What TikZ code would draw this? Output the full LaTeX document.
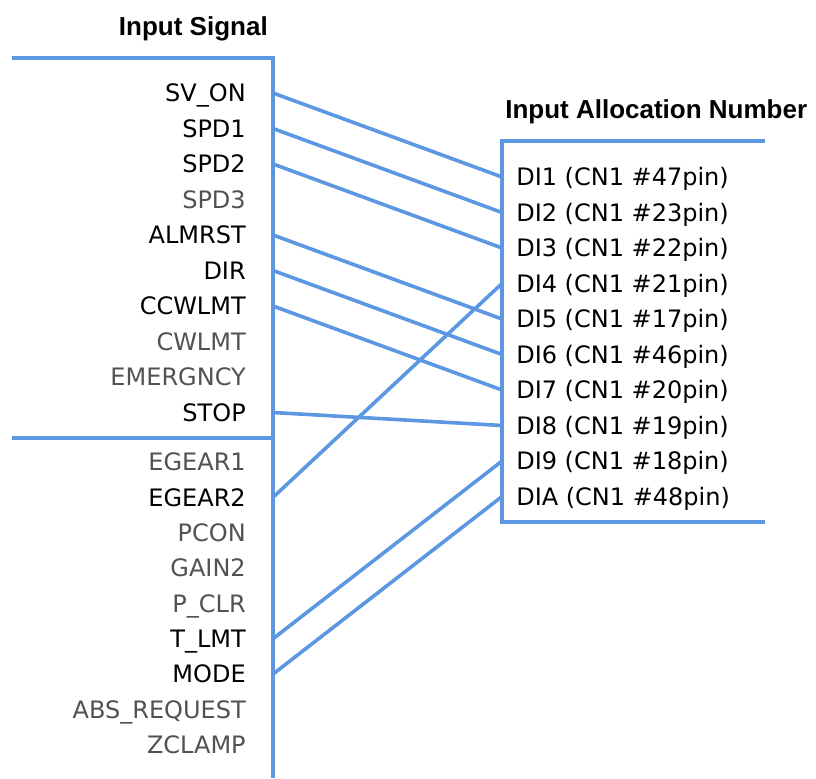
\documentclass[tikz,border=0pt]{standalone}
\usepackage{fontspec}
\setmainfont{DejaVu Sans}
\newfontfamily\headfont{Liberation Sans}
\usetikzlibrary{positioning}
\definecolor{wireblue}{RGB}{92,152,226}

\begin{document}
\begin{tikzpicture}[
    x=0.75pt, y=-0.75pt,
    frame/.style={draw=wireblue, line width=2.7pt},
    wire/.style={draw=wireblue, line width=2.7pt},
    head/.style={inner sep=0pt, font=\headfont\bfseries\fontsize{19.5}{20}\selectfont},
    used/.style={anchor=east, inner sep=0pt, text height=13.1pt, text depth=0pt, font=\fontsize{18}{18}\selectfont, text=black},
    unused/.style={used, text=black!68},
    pinbox/.style={anchor=west, inner sep=0pt, text height=13.1pt, text depth=0pt, font=\fontsize{18}{18}\selectfont}
]
\useasboundingbox (0,0) rectangle (816,778);

% titles
\node[head, anchor=base east] (insig) at (268,35) {Input Signal};
\node[head, anchor=base west] (alloc) at (505,118) {Input Allocation Number};

% frames
\coordinate (inbus) at (273,0);
\coordinate (outbus) at (502,0);
\draw[frame] (12,58) -| (273,778);
\draw[frame] (12,438) -- (273,438);
\draw[frame] (765,141) -| (502,522) -- (765,522);

% input signals
\foreach \lbl/\st [count=\i] in {SV\_ON/used, SPD1/used, SPD2/used, SPD3/unused, ALMRST/used,
    DIR/used, CCWLMT/used, CWLMT/unused, EMERGNCY/unused, STOP/used}
    \node[\st] (sig\i) at (246,{93+35.5*(\i-1)}) {\lbl};
\foreach \lbl/\st [count=\i from 11] in {EGEAR1/unused, EGEAR2/used, PCON/unused, GAIN2/unused,
    P\_CLR/unused, T\_LMT/used, MODE/used, ABS\_REQUEST/unused, ZCLAMP/unused}
    \node[\st] (sig\i) at (246,{462+35.35*(\i-11)}) {\lbl};

% allocation numbers
\foreach \di/\cn [count=\i] in {1/47, 2/23, 3/22, 4/21, 5/17, 6/46, 7/20, 8/19, 9/18, A/48}
    \node[pinbox] (pin\i) at (516,{177+35.5*(\i-1)}) {DI\di\ (CN1 \#\cn pin)};

% connections
\foreach \s/\p in {1/1, 2/2, 3/3, 5/5, 6/6, 7/7, 10/8, 12/4, 16/9, 17/10}
    \draw[wire] (sig\s.east -| inbus) -- (pin\p.west -| outbus);
\end{tikzpicture}
\end{document}
